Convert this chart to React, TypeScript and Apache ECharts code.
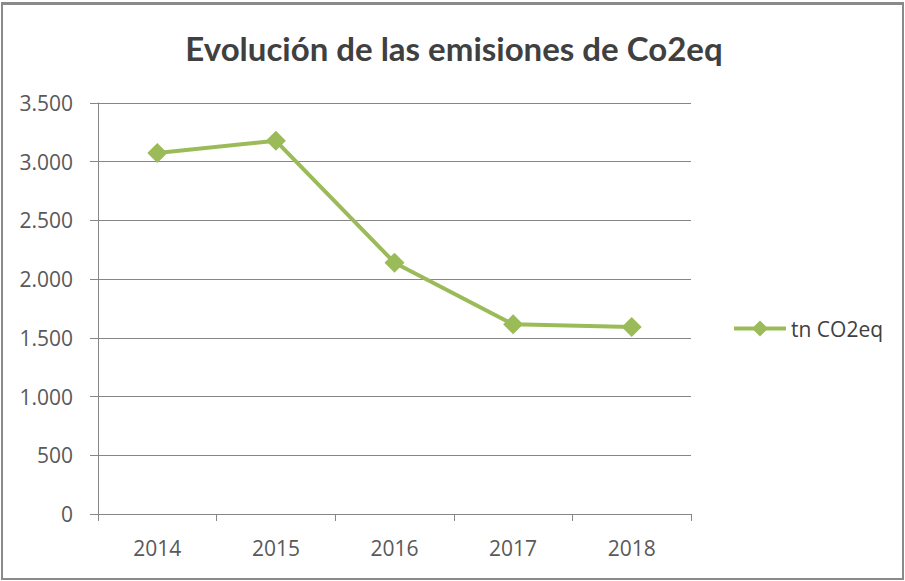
import React, { useEffect, useRef } from "react";
import * as echarts from "echarts";

const TITLE = "Evolución de las emisiones de Co2eq";
const SERIES_NAME = "tn CO2eq";
const YEARS = ["2014", "2015", "2016", "2017", "2018"];
const VALUES = [3075, 3178, 2140, 1615, 1593];

const fmt = (v: number) => String(v).replace(/\B(?=(\d{3})+(?!\d))/g, ".");

export default function App() {
  const ref = useRef<HTMLDivElement>(null);
  useEffect(() => {
    const chart = echarts.init(ref.current!, null, { renderer: "svg" });
    chart.setOption({
      animation: false,
      backgroundColor: "#ffffff",
      title: {
        text: TITLE,
        left: 449,
        textAlign: "center",
        top: 26,
        textStyle: {
          fontFamily: "Lato",
          fontWeight: "bold",
          fontSize: 33,
          color: "#404040",
        },
      },
      legend: {
        data: [SERIES_NAME],
        left: 727,
        top: 313,
        itemWidth: 52,
        itemHeight: 20,
        itemGap: 4,
        lineStyle: { width: 4 },
        textStyle: { fontFamily: "Open Sans", fontSize: 21, color: "#404040" },
      },
      grid: { left: 98, right: 214, top: 103, bottom: 67 },
      xAxis: {
        type: "category",
        data: YEARS,
        boundaryGap: true,
        axisLine: { lineStyle: { color: "#868686", width: 1 } },
        axisTick: { show: true, alignWithLabel: false, length: 7, lineStyle: { color: "#868686" } },
        axisLabel: { fontFamily: "Open Sans", fontSize: 21, color: "#595959", margin: 23 },
      },
      yAxis: {
        type: "value",
        min: 0,
        max: 3500,
        interval: 500,
        axisLine: { show: true, lineStyle: { color: "#868686", width: 1 } },
        axisTick: { show: true, length: 8, lineStyle: { color: "#868686" } },
        axisLabel: { fontFamily: "Open Sans", fontSize: 21, color: "#595959", margin: 25, formatter: fmt },
        splitLine: { lineStyle: { color: "#868686", width: 1 } },
      },
      series: [
        {
          name: SERIES_NAME,
          type: "line",
          data: VALUES,
          symbol: "diamond",
          symbolSize: [20, 20],
          itemStyle: { color: "#9bbb59" },
          lineStyle: { color: "#9bbb59", width: 4 },
        },
      ],
    });
    return () => chart.dispose();
  }, []);
  return (
    <div
      style={{
        position: "fixed",
        left: 0,
        top: 0,
        width: 905,
        height: 581,
        boxSizing: "border-box",
        background: "#fff",
      }}
    >
      <div ref={ref} style={{ width: 905, height: 581 }} />
      <div
        style={{
          position: "absolute",
          left: 1,
          top: 2,
          width: 903,
          height: 578,
          boxSizing: "border-box",
          border: "2px solid #8a8a8a",
          borderTopWidth: 3,
          pointerEvents: "none",
        }}
      />
    </div>
  );
}
